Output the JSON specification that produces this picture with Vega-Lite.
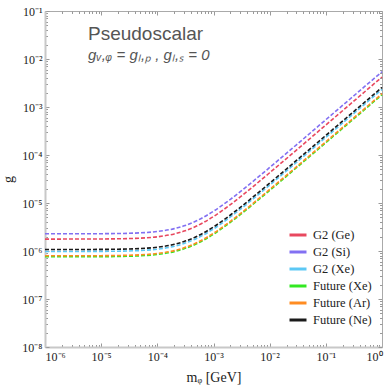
{
  "$schema": "https://vega.github.io/schema/vega-lite/v6.json",
  "width": 337,
  "height": 336,
  "autosize": "none",
  "padding": {"left": 45, "top": 11, "right": 10, "bottom": 45},
  "background": "white",
  "title": {
    "text": "Pseudoscalar",
    "subtitle": "\u2009gᵥ,ᵩ = gₗ,ₚ , gₗ,ₛ = 0",
    "anchor": "start",
    "frame": "group",
    "font": "Liberation Sans",
    "fontSize": 19,
    "fontWeight": "normal",
    "color": "#555555",
    "subtitleFont": "Liberation Sans",
    "subtitleFontSize": 15,
    "subtitleFontStyle": "italic",
    "subtitleColor": "#555555",
    "subtitlePadding": 4,
    "offset": 0,
    "dx": 43,
    "dy": 58
  },
  "data": {
    "values": [
      {"s": "G2 (Ge)", "m": 1e-6, "g": 1.770e-6},
      {"s": "G2 (Ge)", "m": 1e-5, "g": 1.781e-6},
      {"s": "G2 (Ge)", "m": 2e-5, "g": 1.796e-6},
      {"s": "G2 (Ge)", "m": 3e-5, "g": 1.814e-6},
      {"s": "G2 (Ge)", "m": 5e-5, "g": 1.855e-6},
      {"s": "G2 (Ge)", "m": 1e-4, "g": 1.977e-6},
      {"s": "G2 (Ge)", "m": 2e-4, "g": 2.269e-6},
      {"s": "G2 (Ge)", "m": 3e-4, "g": 2.597e-6},
      {"s": "G2 (Ge)", "m": 5e-4, "g": 3.308e-6},
      {"s": "G2 (Ge)", "m": 7e-4, "g": 4.060e-6},
      {"s": "G2 (Ge)", "m": 1e-3, "g": 5.229e-6},
      {"s": "G2 (Ge)", "m": 1.5e-3, "g": 7.232e-6},
      {"s": "G2 (Ge)", "m": 2e-3, "g": 9.269e-6},
      {"s": "G2 (Ge)", "m": 3e-3, "g": 1.339e-5},
      {"s": "G2 (Ge)", "m": 5e-3, "g": 2.172e-5},
      {"s": "G2 (Ge)", "m": 1e-2, "g": 4.267e-5},
      {"s": "G2 (Ge)", "m": 3e-2, "g": 1.267e-4},
      {"s": "G2 (Ge)", "m": 0.1, "g": 4.218e-4},
      {"s": "G2 (Ge)", "m": 0.3, "g": 1.265e-3},
      {"s": "G2 (Ge)", "m": 1, "g": 4.214e-3},
      {"s": "G2 (Si)", "m": 1e-6, "g": 2.281e-6},
      {"s": "G2 (Si)", "m": 1e-5, "g": 2.294e-6},
      {"s": "G2 (Si)", "m": 2e-5, "g": 2.313e-6},
      {"s": "G2 (Si)", "m": 3e-5, "g": 2.337e-6},
      {"s": "G2 (Si)", "m": 5e-5, "g": 2.389e-6},
      {"s": "G2 (Si)", "m": 1e-4, "g": 2.547e-6},
      {"s": "G2 (Si)", "m": 2e-4, "g": 2.923e-6},
      {"s": "G2 (Si)", "m": 3e-4, "g": 3.345e-6},
      {"s": "G2 (Si)", "m": 5e-4, "g": 4.261e-6},
      {"s": "G2 (Si)", "m": 7e-4, "g": 5.230e-6},
      {"s": "G2 (Si)", "m": 1e-3, "g": 6.735e-6},
      {"s": "G2 (Si)", "m": 1.5e-3, "g": 9.316e-6},
      {"s": "G2 (Si)", "m": 2e-3, "g": 1.194e-5},
      {"s": "G2 (Si)", "m": 3e-3, "g": 1.725e-5},
      {"s": "G2 (Si)", "m": 5e-3, "g": 2.798e-5},
      {"s": "G2 (Si)", "m": 1e-2, "g": 5.497e-5},
      {"s": "G2 (Si)", "m": 3e-2, "g": 1.633e-4},
      {"s": "G2 (Si)", "m": 0.1, "g": 5.433e-4},
      {"s": "G2 (Si)", "m": 0.3, "g": 1.630e-3},
      {"s": "G2 (Si)", "m": 1, "g": 5.429e-3},
      {"s": "G2 (Xe)", "m": 1e-6, "g": 9.77e-7},
      {"s": "G2 (Xe)", "m": 1e-5, "g": 9.83e-7},
      {"s": "G2 (Xe)", "m": 2e-5, "g": 9.91e-7},
      {"s": "G2 (Xe)", "m": 3e-5, "g": 1.001e-6},
      {"s": "G2 (Xe)", "m": 5e-5, "g": 1.024e-6},
      {"s": "G2 (Xe)", "m": 1e-4, "g": 1.091e-6},
      {"s": "G2 (Xe)", "m": 2e-4, "g": 1.253e-6},
      {"s": "G2 (Xe)", "m": 3e-4, "g": 1.433e-6},
      {"s": "G2 (Xe)", "m": 5e-4, "g": 1.826e-6},
      {"s": "G2 (Xe)", "m": 7e-4, "g": 2.241e-6},
      {"s": "G2 (Xe)", "m": 1e-3, "g": 2.886e-6},
      {"s": "G2 (Xe)", "m": 1.5e-3, "g": 3.992e-6},
      {"s": "G2 (Xe)", "m": 2e-3, "g": 5.117e-6},
      {"s": "G2 (Xe)", "m": 3e-3, "g": 7.392e-6},
      {"s": "G2 (Xe)", "m": 5e-3, "g": 1.199e-5},
      {"s": "G2 (Xe)", "m": 1e-2, "g": 2.356e-5},
      {"s": "G2 (Xe)", "m": 3e-2, "g": 6.996e-5},
      {"s": "G2 (Xe)", "m": 0.1, "g": 2.328e-4},
      {"s": "G2 (Xe)", "m": 0.3, "g": 6.983e-4},
      {"s": "G2 (Xe)", "m": 1, "g": 2.326e-3},
      {"s": "Future (Xe)", "m": 1e-6, "g": 7.57e-7},
      {"s": "Future (Xe)", "m": 1e-5, "g": 7.62e-7},
      {"s": "Future (Xe)", "m": 2e-5, "g": 7.68e-7},
      {"s": "Future (Xe)", "m": 3e-5, "g": 7.76e-7},
      {"s": "Future (Xe)", "m": 5e-5, "g": 7.93e-7},
      {"s": "Future (Xe)", "m": 1e-4, "g": 8.46e-7},
      {"s": "Future (Xe)", "m": 2e-4, "g": 9.70e-7},
      {"s": "Future (Xe)", "m": 3e-4, "g": 1.111e-6},
      {"s": "Future (Xe)", "m": 5e-4, "g": 1.415e-6},
      {"s": "Future (Xe)", "m": 7e-4, "g": 1.737e-6},
      {"s": "Future (Xe)", "m": 1e-3, "g": 2.236e-6},
      {"s": "Future (Xe)", "m": 1.5e-3, "g": 3.093e-6},
      {"s": "Future (Xe)", "m": 2e-3, "g": 3.964e-6},
      {"s": "Future (Xe)", "m": 3e-3, "g": 5.727e-6},
      {"s": "Future (Xe)", "m": 5e-3, "g": 9.288e-6},
      {"s": "Future (Xe)", "m": 1e-2, "g": 1.825e-5},
      {"s": "Future (Xe)", "m": 3e-2, "g": 5.421e-5},
      {"s": "Future (Xe)", "m": 0.1, "g": 1.804e-4},
      {"s": "Future (Xe)", "m": 0.3, "g": 5.410e-4},
      {"s": "Future (Xe)", "m": 1, "g": 1.802e-3},
      {"s": "Future (Ar)", "m": 1e-6, "g": 7.94e-7},
      {"s": "Future (Ar)", "m": 1e-5, "g": 7.99e-7},
      {"s": "Future (Ar)", "m": 2e-5, "g": 8.06e-7},
      {"s": "Future (Ar)", "m": 3e-5, "g": 8.14e-7},
      {"s": "Future (Ar)", "m": 5e-5, "g": 8.32e-7},
      {"s": "Future (Ar)", "m": 1e-4, "g": 8.87e-7},
      {"s": "Future (Ar)", "m": 2e-4, "g": 1.018e-6},
      {"s": "Future (Ar)", "m": 3e-4, "g": 1.165e-6},
      {"s": "Future (Ar)", "m": 5e-4, "g": 1.484e-6},
      {"s": "Future (Ar)", "m": 7e-4, "g": 1.821e-6},
      {"s": "Future (Ar)", "m": 1e-3, "g": 2.345e-6},
      {"s": "Future (Ar)", "m": 1.5e-3, "g": 3.244e-6},
      {"s": "Future (Ar)", "m": 2e-3, "g": 4.158e-6},
      {"s": "Future (Ar)", "m": 3e-3, "g": 6.007e-6},
      {"s": "Future (Ar)", "m": 5e-3, "g": 9.742e-6},
      {"s": "Future (Ar)", "m": 1e-2, "g": 1.914e-5},
      {"s": "Future (Ar)", "m": 3e-2, "g": 5.686e-5},
      {"s": "Future (Ar)", "m": 0.1, "g": 1.892e-4},
      {"s": "Future (Ar)", "m": 0.3, "g": 5.675e-4},
      {"s": "Future (Ar)", "m": 1, "g": 1.891e-3},
      {"s": "Future (Ne)", "m": 1e-6, "g": 1.074e-6},
      {"s": "Future (Ne)", "m": 1e-5, "g": 1.080e-6},
      {"s": "Future (Ne)", "m": 2e-5, "g": 1.090e-6},
      {"s": "Future (Ne)", "m": 3e-5, "g": 1.101e-6},
      {"s": "Future (Ne)", "m": 5e-5, "g": 1.126e-6},
      {"s": "Future (Ne)", "m": 1e-4, "g": 1.200e-6},
      {"s": "Future (Ne)", "m": 2e-4, "g": 1.377e-6},
      {"s": "Future (Ne)", "m": 3e-4, "g": 1.576e-6},
      {"s": "Future (Ne)", "m": 5e-4, "g": 2.007e-6},
      {"s": "Future (Ne)", "m": 7e-4, "g": 2.464e-6},
      {"s": "Future (Ne)", "m": 1e-3, "g": 3.173e-6},
      {"s": "Future (Ne)", "m": 1.5e-3, "g": 4.388e-6},
      {"s": "Future (Ne)", "m": 2e-3, "g": 5.625e-6},
      {"s": "Future (Ne)", "m": 3e-3, "g": 8.126e-6},
      {"s": "Future (Ne)", "m": 5e-3, "g": 1.318e-5},
      {"s": "Future (Ne)", "m": 1e-2, "g": 2.589e-5},
      {"s": "Future (Ne)", "m": 3e-2, "g": 7.691e-5},
      {"s": "Future (Ne)", "m": 0.1, "g": 2.559e-4},
      {"s": "Future (Ne)", "m": 0.3, "g": 7.676e-4},
      {"s": "Future (Ne)", "m": 1, "g": 2.557e-3}
    ]
  },
  "layer": [
    {
      "mark": {"type": "point", "opacity": 0},
      "encoding": {
        "x": {"field": "m", "type": "quantitative", "scale": {"type": "log", "domain": [1e-6, 1], "nice": false},
          "axis": {"orient": "bottom", "values": [2e-6,3e-6,4e-6,5e-6,6e-6,7e-6,8e-6,9e-6,2e-5,3e-5,4e-5,5e-5,6e-5,7e-5,8e-5,9e-5,2e-4,3e-4,4e-4,5e-4,6e-4,7e-4,8e-4,9e-4,2e-3,3e-3,4e-3,5e-3,6e-3,7e-3,8e-3,9e-3,2e-2,3e-2,4e-2,5e-2,6e-2,7e-2,8e-2,9e-2,0.2,0.3,0.4,0.5,0.6,0.7,0.8,0.9],
            "tickSize": -2.5, "labels": false, "domain": false, "title": null, "tickColor": "#999999"}},
        "y": {"field": "g", "type": "quantitative", "scale": {"type": "log", "domain": [1e-8, 0.1], "nice": false},
          "axis": {"orient": "left", "values": [2e-8,3e-8,4e-8,5e-8,6e-8,7e-8,8e-8,9e-8,2e-7,3e-7,4e-7,5e-7,6e-7,7e-7,8e-7,9e-7,2e-6,3e-6,4e-6,5e-6,6e-6,7e-6,8e-6,9e-6,2e-5,3e-5,4e-5,5e-5,6e-5,7e-5,8e-5,9e-5,2e-4,3e-4,4e-4,5e-4,6e-4,7e-4,8e-4,9e-4,2e-3,3e-3,4e-3,5e-3,6e-3,7e-3,8e-3,9e-3,2e-2,3e-2,4e-2,5e-2,6e-2,7e-2,8e-2,9e-2],
            "tickSize": -2.5, "labels": false, "domain": false, "title": null, "tickColor": "#999999"}}
      }
    },
    {
      "mark": {"type": "point", "opacity": 0},
      "encoding": {
        "x": {"field": "m", "type": "quantitative",
          "axis": {"orient": "top", "values": [1e-6,1e-5,1e-4,1e-3,1e-2,0.1,1], "tickSize": -4, "labels": false, "title": null, "domain": true, "domainColor": "#aaaaaa", "domainWidth": 1, "tickColor": "#999999"}},
        "y": {"field": "g", "type": "quantitative",
          "axis": {"orient": "right", "values": [1e-8,1e-7,1e-6,1e-5,1e-4,1e-3,1e-2,0.1], "tickSize": -4, "labels": false, "title": null, "domain": true, "domainColor": "#aaaaaa", "domainWidth": 1, "tickColor": "#999999"}}
      }
    },
    {
      "mark": {"type": "point", "opacity": 0},
      "encoding": {
        "x": {"field": "m", "type": "quantitative",
          "axis": {"orient": "top", "values": [2e-6,3e-6,4e-6,5e-6,6e-6,7e-6,8e-6,9e-6,2e-5,3e-5,4e-5,5e-5,6e-5,7e-5,8e-5,9e-5,2e-4,3e-4,4e-4,5e-4,6e-4,7e-4,8e-4,9e-4,2e-3,3e-3,4e-3,5e-3,6e-3,7e-3,8e-3,9e-3,2e-2,3e-2,4e-2,5e-2,6e-2,7e-2,8e-2,9e-2,0.2,0.3,0.4,0.5,0.6,0.7,0.8,0.9],
            "tickSize": -2.5, "labels": false, "domain": false, "title": null, "tickColor": "#999999"}},
        "y": {"field": "g", "type": "quantitative",
          "axis": {"orient": "right", "values": [2e-8,3e-8,4e-8,5e-8,6e-8,7e-8,8e-8,9e-8,2e-7,3e-7,4e-7,5e-7,6e-7,7e-7,8e-7,9e-7,2e-6,3e-6,4e-6,5e-6,6e-6,7e-6,8e-6,9e-6,2e-5,3e-5,4e-5,5e-5,6e-5,7e-5,8e-5,9e-5,2e-4,3e-4,4e-4,5e-4,6e-4,7e-4,8e-4,9e-4,2e-3,3e-3,4e-3,5e-3,6e-3,7e-3,8e-3,9e-3,2e-2,3e-2,4e-2,5e-2,6e-2,7e-2,8e-2,9e-2],
            "tickSize": -2.5, "labels": false, "domain": false, "title": null, "tickColor": "#999999"}}
      }
    },
    {
      "mark": {"type": "line", "strokeDash": [4, 2], "strokeWidth": 1.6, "interpolate": "monotone"},
      "encoding": {
        "x": {"field": "m", "type": "quantitative",
          "axis": {"orient": "bottom", "values": [1e-6,1e-5,1e-4,1e-3,1e-2,0.1,1], "tickSize": -4, "labelPadding": 8,
            "labelExpr": "'10' + ['⁻⁶','⁻⁵','⁻⁴','⁻³','⁻²','⁻¹','⁰'][round(log(datum.value)/LN10)+6]",
            "title": "mᵩ [GeV]", "titlePadding": 8, "domain": true, "domainColor": "#c8c8c8", "domainWidth": 2, "tickColor": "#999999"}},
        "y": {"field": "g", "type": "quantitative",
          "axis": {"orient": "left", "values": [1e-8,1e-7,1e-6,1e-5,1e-4,1e-3,1e-2,0.1], "tickSize": -4, "labelPadding": 7,
            "labelExpr": "'10' + ['⁻⁸','⁻⁷','⁻⁶','⁻⁵','⁻⁴','⁻³','⁻²','⁻¹'][round(log(datum.value)/LN10)+8]",
            "title": "g", "titlePadding": 6, "domain": true, "domainColor": "#c8c8c8", "domainWidth": 2, "tickColor": "#999999"}},
        "color": {"field": "s", "type": "nominal",
          "scale": {"domain": ["G2 (Ge)", "G2 (Si)", "G2 (Xe)", "Future (Xe)", "Future (Ar)", "Future (Ne)"],
            "range": ["#e8485f", "#8270f2", "#5cc8f5", "#33e822", "#ff8c22", "#1a1a1a"]},
          "legend": {"title": null, "orient": "none", "legendX": 243, "legendY": 214, "padding": 0,
            "symbolType": "stroke", "symbolStrokeWidth": 3, "symbolSize": 289, "symbolDash": [],
            "labelFont": "Liberation Serif", "labelFontSize": 12.5, "labelColor": "#222222", "labelOffset": 5, "rowPadding": -1.5}}
      }
    }
  ],
  "resolve": {"axis": {"x": "independent", "y": "independent"}},
  "config": {
    "view": {"stroke": null},
    "axis": {"grid": false, "labelFont": "Liberation Serif", "labelFontSize": 12, "labelColor": "#222222",
      "titleFont": "Liberation Serif", "titleFontSize": 14, "titleFontWeight": "normal", "titleColor": "#222222"}
  }
}
